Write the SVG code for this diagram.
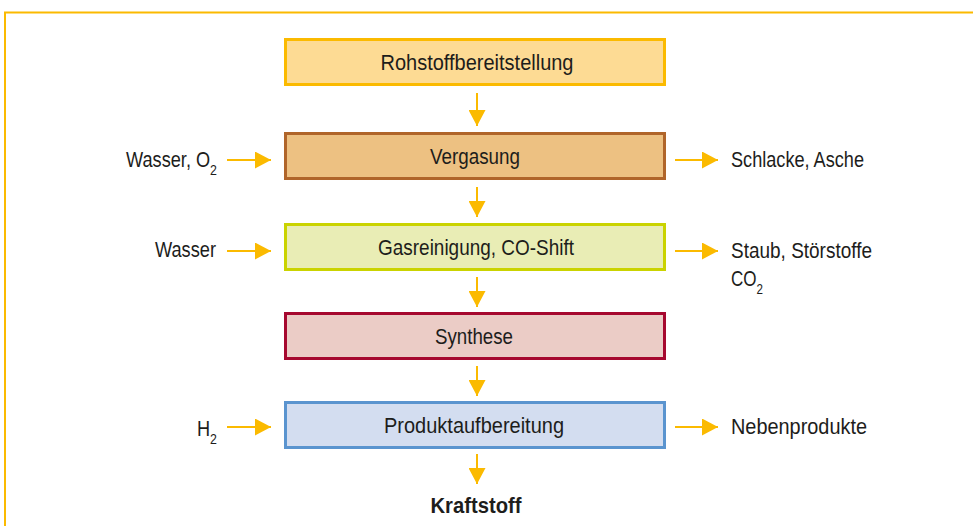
<svg xmlns="http://www.w3.org/2000/svg" width="973" height="526" viewBox="0 0 973 526">
<style>
text{font-family:"Liberation Sans Narrow","Liberation Sans",Arial,sans-serif;font-size:22px;fill:#1d1d1b}
.c{text-anchor:middle}
.b{font-weight:bold}
.sub{font-size:15px}
.box{stroke-width:3}
.con line{stroke:#FBBA00;stroke-width:2}
</style>
<defs>
<marker id="ah" markerWidth="16" markerHeight="17" refX="16" refY="8.5" orient="auto" markerUnits="userSpaceOnUse">
<path d="M0,0 L16,8.5 L0,17 Z" fill="#FBBA00"/>
</marker>
</defs>
<rect width="973" height="526" fill="#fff"/>
<path d="M5,526 V12.5 H973" fill="none" stroke="#FBBA00" stroke-width="2"/>

<g id="n1"><rect class="box" x="285.5" y="39.5" width="379" height="45" fill="#FDDB94" stroke="#FBBA00"/><text class="c" x="477" y="70" textLength="193" lengthAdjust="spacingAndGlyphs">Rohstoffbereitstellung</text></g>
<g id="n2"><rect class="box" x="285.5" y="133.5" width="379" height="45" fill="#EDC182" stroke="#B0652A"/><text class="c" x="475" y="164" textLength="90" lengthAdjust="spacingAndGlyphs">Vergasung</text></g>
<g id="n3"><rect class="box" x="285.5" y="224.5" width="379" height="45" fill="#E9EDB5" stroke="#CAD300"/><text class="c" x="476" y="255" textLength="196" lengthAdjust="spacingAndGlyphs">Gasreinigung, CO-Shift</text></g>
<g id="n4"><rect class="box" x="285.5" y="313.5" width="379" height="45" fill="#EBCCC6" stroke="#A6082F"/><text class="c" x="474" y="344" textLength="78" lengthAdjust="spacingAndGlyphs">Synthese</text></g>
<g id="n5"><rect class="box" x="285.5" y="402.5" width="379" height="45" fill="#D3DDF0" stroke="#5A94CF"/><text class="c" x="474" y="433" textLength="180" lengthAdjust="spacingAndGlyphs">Produktaufbereitung</text></g>
<g id="n6"><text class="c b" x="476" y="513" textLength="91" lengthAdjust="spacingAndGlyphs">Kraftstoff</text></g>

<g id="in1"><text x="126" y="167" textLength="91" lengthAdjust="spacingAndGlyphs">Wasser, O<tspan class="sub" dy="8">2</tspan></text></g>
<g id="in2"><text x="155" y="257" textLength="61" lengthAdjust="spacingAndGlyphs">Wasser</text></g>
<g id="in3"><text x="197" y="436" textLength="20" lengthAdjust="spacingAndGlyphs">H<tspan class="sub" dy="8">2</tspan></text></g>
<g id="out1"><text x="731" y="167" textLength="133" lengthAdjust="spacingAndGlyphs">Schlacke, Asche</text></g>
<g id="out2"><text x="731" y="258" textLength="141" lengthAdjust="spacingAndGlyphs">Staub, Störstoffe</text><text x="731" y="286" textLength="32" lengthAdjust="spacingAndGlyphs">CO<tspan class="sub" dy="8">2</tspan></text></g>
<g id="out3"><text x="731" y="434" textLength="136" lengthAdjust="spacingAndGlyphs">Nebenprodukte</text></g>

<g class="con" id="connectors">
<line x1="477" y1="93" x2="477" y2="126" marker-end="url(#ah)"/>
<line x1="477" y1="187" x2="477" y2="217" marker-end="url(#ah)"/>
<line x1="477" y1="277" x2="477" y2="307" marker-end="url(#ah)"/>
<line x1="477" y1="366" x2="477" y2="396" marker-end="url(#ah)"/>
<line x1="477" y1="454" x2="477" y2="484" marker-end="url(#ah)"/>
<line x1="227" y1="160" x2="271" y2="160" marker-end="url(#ah)"/>
<line x1="227" y1="251" x2="271" y2="251" marker-end="url(#ah)"/>
<line x1="227" y1="427" x2="271" y2="427" marker-end="url(#ah)"/>
<line x1="675" y1="160" x2="718" y2="160" marker-end="url(#ah)"/>
<line x1="675" y1="251" x2="718" y2="251" marker-end="url(#ah)"/>
<line x1="675" y1="427" x2="718" y2="427" marker-end="url(#ah)"/>
</g>
</svg>
